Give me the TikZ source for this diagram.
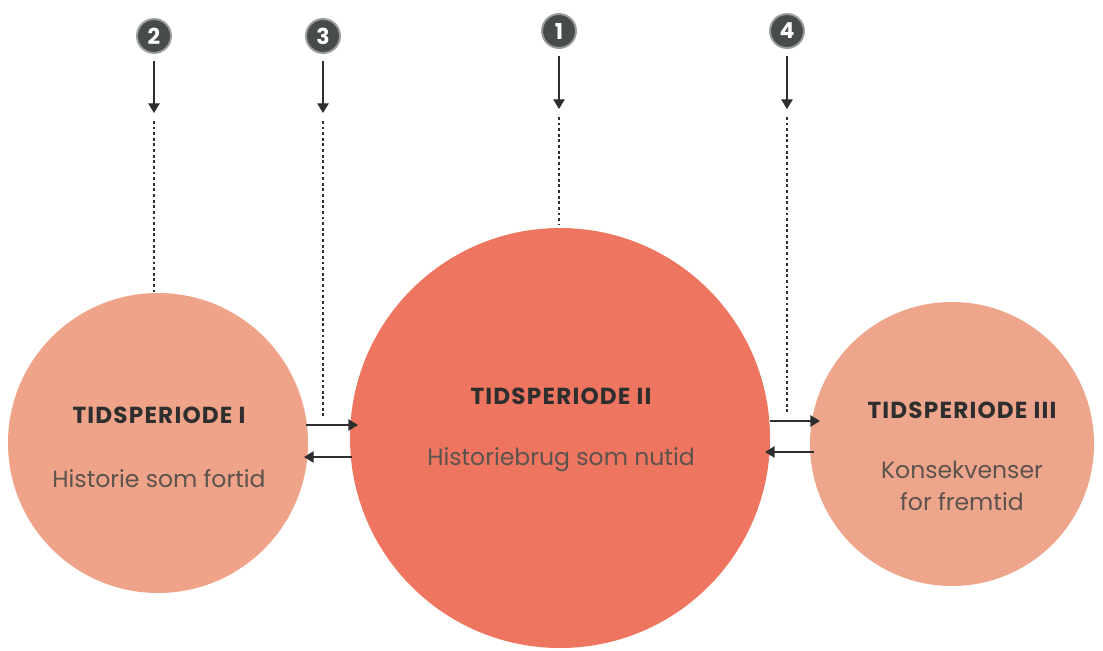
\documentclass[tikz,border=0pt]{standalone}
\usepackage{fontspec}
\setmainfont{Poppins}
\usetikzlibrary{arrows.meta}
\definecolor{cLeft}{HTML}{EFA48A}
\definecolor{cMid}{HTML}{EE7660}
\definecolor{cRight}{HTML}{EDA68C}
\definecolor{badge}{HTML}{474B4C}
\definecolor{ring}{HTML}{9A9C9C}
\definecolor{ink}{HTML}{2E2E2E}
\definecolor{soft}{HTML}{5C524E}
\tikzset{
  x=0.02cm, y=-0.02cm,
  period/.style={circle, inner sep=0pt},
  badgenode/.style={circle, fill=badge, draw=ring, line width=1.1pt, minimum size=34*0.02cm, inner sep=0pt, text=white, font=\bfseries\fontsize{12.5}{12.5}\selectfont},
  pointer/.style={draw=ink, line width=0.7pt, -{Triangle[width=6.5pt,length=5.5pt]}},
  dots/.style={draw=ink, line width=0.7pt, dash pattern=on 1.6pt off 1.6pt},
  flow/.style={draw=ink, line width=0.8pt, -{Triangle[width=6.5pt,length=5.5pt]}},
  head/.style={text=ink, font=\bfseries\fontsize{13.2}{15}\selectfont\addfontfeature{LetterSpace=5}},
  body/.style={text=soft, align=center, font=\fontsize{13.4}{18}\selectfont},
}
\begin{document}
\begin{tikzpicture}
\useasboundingbox (0,0) rectangle (1103,650);
\fill[white] (0,0) rectangle (1103,650);
\begin{scope}
\clip (0,0) rectangle (1103,650);
\node[period, fill=cLeft, minimum size=300*0.02cm] (p1) at (158,443) {};
\node[period, fill=cMid, minimum size=420*0.02cm] (p2) at (560,438) {};
\node[period, fill=cRight, minimum size=284*0.02cm] (p3) at (952,444) {};
\end{scope}

\node[head] (h1) at (159,415) {TIDSPERIODE I};
\node[body] (b1) at (159,479) {Historie som fortid};
\node[head] (h2) at (561,396) {TIDSPERIODE II};
\node[body] (b2) at (561,460) {Historiebrug som nutid};
\node[head] (h3) at (962,410) {TIDSPERIODE III};
\node[body] (b3) at (962,486) {Konsekvenser\\for fremtid};

\node[badgenode] (n2) at (154,36) {2};
\node[badgenode] (n3) at (323,36) {3};
\node[badgenode] (n1) at (559,31) {1};
\node[badgenode] (n4) at (787,31) {4};

\coordinate (a2) at (154,113); \coordinate (d2) at (154,121); \coordinate (e2) at (154,292);
\coordinate (a3) at (323,113); \coordinate (d3) at (323,121); \coordinate (e3) at (323,418);
\coordinate (a1) at (559,109); \coordinate (d1) at (559,117); \coordinate (e1) at (559,224);
\coordinate (a4) at (787,109); \coordinate (d4) at (787,117); \coordinate (e4) at (787,414);

\foreach \i in {1,2,3,4} {
  \draw[pointer] ([yshift=-0.14cm]n\i.south) -- (a\i);
  \draw[dots] (d\i) -- (e\i);
}

\coordinate (l1) at (306,425); \coordinate (r1) at (358,425);
\coordinate (l2) at (304,457); \coordinate (r2) at (352,457);
\coordinate (l3) at (770,421); \coordinate (r3) at (820,421);
\coordinate (l4) at (765,452); \coordinate (r4) at (814,452);
\draw[flow] (l1) -- (r1);
\draw[flow] (r2) -- (l2);
\draw[flow] (l3) -- (r3);
\draw[flow] (r4) -- (l4);
\end{tikzpicture}
\end{document}
